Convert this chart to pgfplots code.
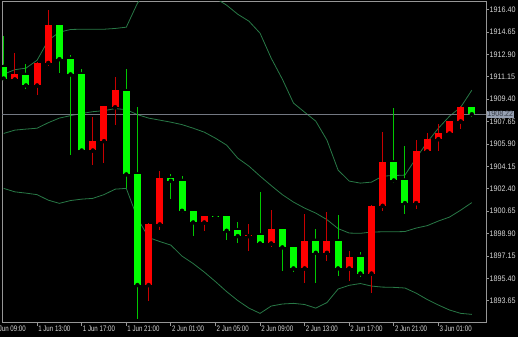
\documentclass[border=0pt]{standalone}
\usepackage{pgfplots}
\pgfplotsset{compat=1.18}
\usepackage{pgfplotstable}
\usepackage{fontspec}
\setmainfont{Liberation Sans}
\newfontfamily\xlabfont[FakeStretch=0.77]{Liberation Sans}
\newfontfamily\ylabfont[FakeStretch=0.9]{Liberation Sans}

\definecolor{band}{RGB}{40,120,70}
\definecolor{frame}{RGB}{150,150,150}
\definecolor{labtxt}{RGB}{215,215,215}
\definecolor{bidline}{RGB}{115,120,130}
\definecolor{bidbox}{RGB}{150,160,178}
\definecolor{bidtxt}{RGB}{55,60,70}
\definecolor{upbody}{RGB}{255,0,0}
\definecolor{upwick}{RGB}{200,0,0}
\definecolor{dnbody}{RGB}{0,255,0}
\definecolor{dnwick}{RGB}{0,200,0}

% bullish candles (drawn red): index, open, high, low, close
\pgfplotstableread{
i o h l c
1 1910.94 1913.04 1910.88 1911.33
3 1910.47 1912.30 1909.73 1912.23
4 1912.23 1916.40 1912.00 1915.17
8 1905.39 1907.97 1904.27 1906.12
9 1906.12 1908.90 1904.43 1908.85
10 1908.77 1911.09 1907.37 1910.08
13 1894.88 1899.74 1893.63 1899.62
14 1899.62 1903.78 1899.17 1903.21
18 1899.77 1900.30 1899.07 1900.26
22 1898.70 1899.62 1897.56 1898.77
24 1898.13 1900.73 1897.87 1899.25
27 1896.18 1900.40 1895.06 1898.34
29 1897.40 1900.58 1896.77 1898.31
31 1896.18 1897.53 1895.19 1897.09
33 1895.78 1901.10 1894.23 1901.07
34 1901.07 1906.80 1900.65 1904.46
37 1901.28 1906.17 1900.81 1905.32
38 1905.32 1906.77 1905.25 1906.28
39 1906.28 1907.45 1905.36 1906.72
40 1906.72 1907.70 1906.70 1907.66
41 1907.66 1908.85 1907.06 1908.80
}\upT

% bearish candles (drawn green): index, open, high, low, close
\pgfplotstableread{
i o h l c
0 1911.92 1914.32 1910.80 1911.01
2 1911.30 1912.18 1910.18 1910.47
5 1915.17 1915.20 1911.45 1912.52
6 1912.54 1912.81 1905.00 1911.33
7 1911.35 1911.72 1905.30 1905.39
11 1910.02 1911.79 1902.43 1903.52
12 1903.52 1908.80 1892.22 1894.88
15 1903.21 1903.54 1901.61 1903.02
16 1903.02 1903.41 1900.47 1900.68
17 1900.68 1900.73 1898.70 1899.77
19 1900.28 1900.30 1900.18 1900.20
20 1900.26 1900.44 1898.39 1899.12
21 1899.17 1899.77 1898.18 1898.70
23 1898.76 1902.11 1898.00 1898.13
25 1899.25 1899.30 1895.99 1897.82
26 1897.82 1897.85 1895.92 1896.18
28 1898.34 1899.23 1895.01 1897.40
30 1898.31 1900.34 1895.58 1896.18
32 1897.09 1897.48 1895.50 1895.78
35 1904.46 1908.67 1902.82 1903.05
36 1903.05 1905.73 1900.42 1901.28
42 1908.80 1908.85 1907.99 1908.22
}\dnT

% Bollinger bands: index, upper, middle, lower
\pgfplotstableread{
i up mid lo
0 1911.35 1906.72 1902.43
1 1911.70 1906.98 1902.16
2 1911.82 1907.06 1902.06
3 1912.44 1907.13 1901.94
4 1914.00 1907.56 1901.51
5 1914.63 1907.92 1901.26
6 1914.84 1908.11 1901.48
7 1914.86 1908.28 1901.59
8 1914.86 1908.42 1901.65
9 1914.86 1908.50 1901.94
10 1914.92 1908.66 1902.37
11 1915.02 1908.58 1902.43
12 1916.89 1908.19 1900.11
13 1918.06 1907.92 1898.59
14 1918.53 1907.76 1898.28
15 1918.84 1907.60 1898.00
16 1918.84 1907.41 1897.14
17 1918.69 1907.13 1896.56
18 1918.30 1906.82 1895.89
19 1917.28 1906.35 1895.15
20 1916.74 1905.81 1894.37
21 1916.03 1904.79 1893.67
22 1915.49 1904.17 1893.08
23 1914.55 1903.39 1892.67
24 1912.60 1902.65 1893.24
25 1910.96 1901.94 1893.40
26 1909.09 1901.36 1893.45
27 1908.38 1900.89 1893.36
28 1907.68 1900.50 1893.08
29 1906.20 1899.99 1893.51
30 1903.86 1899.29 1894.57
31 1903.00 1898.94 1894.86
32 1902.84 1898.92 1895.00
33 1902.92 1899.02 1894.80
34 1903.39 1899.04 1894.72
35 1903.43 1899.04 1894.70
36 1903.47 1899.06 1894.65
37 1904.79 1899.33 1894.25
38 1906.04 1899.52 1893.75
39 1907.13 1899.88 1893.32
40 1908.07 1900.19 1892.93
41 1908.77 1900.73 1892.67
42 1910.10 1901.32 1892.59
}\bandT

\begin{document}
\begin{tikzpicture}
\useasboundingbox (-2bp,-14.3bp) rectangle (516bp,322.7bp);
\clip (-2bp,-14.3bp) rectangle (516bp,322.7bp);
\fill[black] (-2bp,-14.3bp) rectangle (516bp,322.7bp);
\begin{axis}[
  scale only axis, width=484bp, height=321bp,
  xmin=-0.15, xmax=43.27, ymin=1891.94, ymax=1917.01,
  clip mode=individual,
  axis line style={frame, line width=0.8bp},
  xtick={3,7,11,15,19,23,27,31,35,39},
  xticklabels={1 Jun 13:00,1 Jun 17:00,1 Jun 21:00,2 Jun 01:00,2 Jun 05:00,2 Jun 09:00,2 Jun 13:00,2 Jun 17:00,2 Jun 21:00,3 Jun 01:00},
  ytick={1893.65,1895.40,1897.15,1898.90,1900.65,1902.40,1904.15,1905.90,1907.65,1909.40,1911.15,1912.90,1914.65,1916.40},
  yticklabels={1893.65,1895.40,1897.15,1898.90,1900.65,1902.40,1904.15,1905.90,1907.65,1909.40,1911.15,1912.90,1914.65,1916.40},
  xtick pos=bottom, ytick pos=right, yticklabel pos=right,
  tick align=outside, major tick length=3bp,
  tick style={frame, line width=0.8bp},
  xticklabel style={font=\xlabfont\fontsize{8}{9}\selectfont, text=labtxt, anchor=north west, inner sep=0pt, xshift=1bp},
  yticklabel style={font=\ylabfont\fontsize{8}{9}\selectfont, text=labtxt, anchor=west, inner sep=0pt, xshift=0.5bp},
]
% Bollinger bands
\addplot[band, line width=0.8bp] table[x=i, y=up] {\bandT};
\addplot[band, line width=0.8bp] table[x=i, y=mid] {\bandT};
\addplot[band, line width=0.8bp] table[x=i, y=lo] {\bandT};
% current price line
\addplot[bidline, line width=0.8bp] coordinates {(-0.15,1908.22) (43.27,1908.22)};
% wicks
\addplot[only marks, mark=none, error bars/.cd, y dir=both, y explicit, error mark=none,
  error bar style={draw=upwick, line width=1bp}]
  table[x=i, y=o, y error plus expr=\thisrow{h}-\thisrow{o}, y error minus expr=\thisrow{o}-\thisrow{l}] {\upT};
\addplot[only marks, mark=none, error bars/.cd, y dir=both, y explicit, error mark=none,
  error bar style={draw=dnwick, line width=1bp}]
  table[x=i, y=o, y error plus expr=\thisrow{h}-\thisrow{o}, y error minus expr=\thisrow{o}-\thisrow{l}] {\dnT};
% bodies
\addplot[only marks, mark=none, error bars/.cd, y dir=plus, y explicit, error mark=none,
  error bar style={draw=upbody, line width=7bp, line cap=butt}]
  table[x=i, y=o, y error plus expr=\thisrow{c}-\thisrow{o}] {\upT};
\addplot[only marks, mark=none, error bars/.cd, y dir=plus, y explicit, error mark=none,
  error bar style={draw=dnbody, line width=7bp, line cap=butt}]
  table[x=i, y=c, y error plus expr=\thisrow{o}-\thisrow{c}] {\dnT};
% labels
\node[anchor=west, fill=bidbox, text=bidtxt, inner sep=0.6bp, font=\ylabfont\fontsize{8}{9}\selectfont, xshift=0.5bp] at (axis cs:43.27,1908.22) {1908.22};
\node[anchor=north west, inner sep=0pt, text=labtxt, font=\xlabfont\fontsize{8}{9}\selectfont, xshift=1bp, yshift=-3.4bp] at (axis cs:-1,1891.94) {1 Jun 09:00};
\end{axis}
\end{tikzpicture}
\end{document}
